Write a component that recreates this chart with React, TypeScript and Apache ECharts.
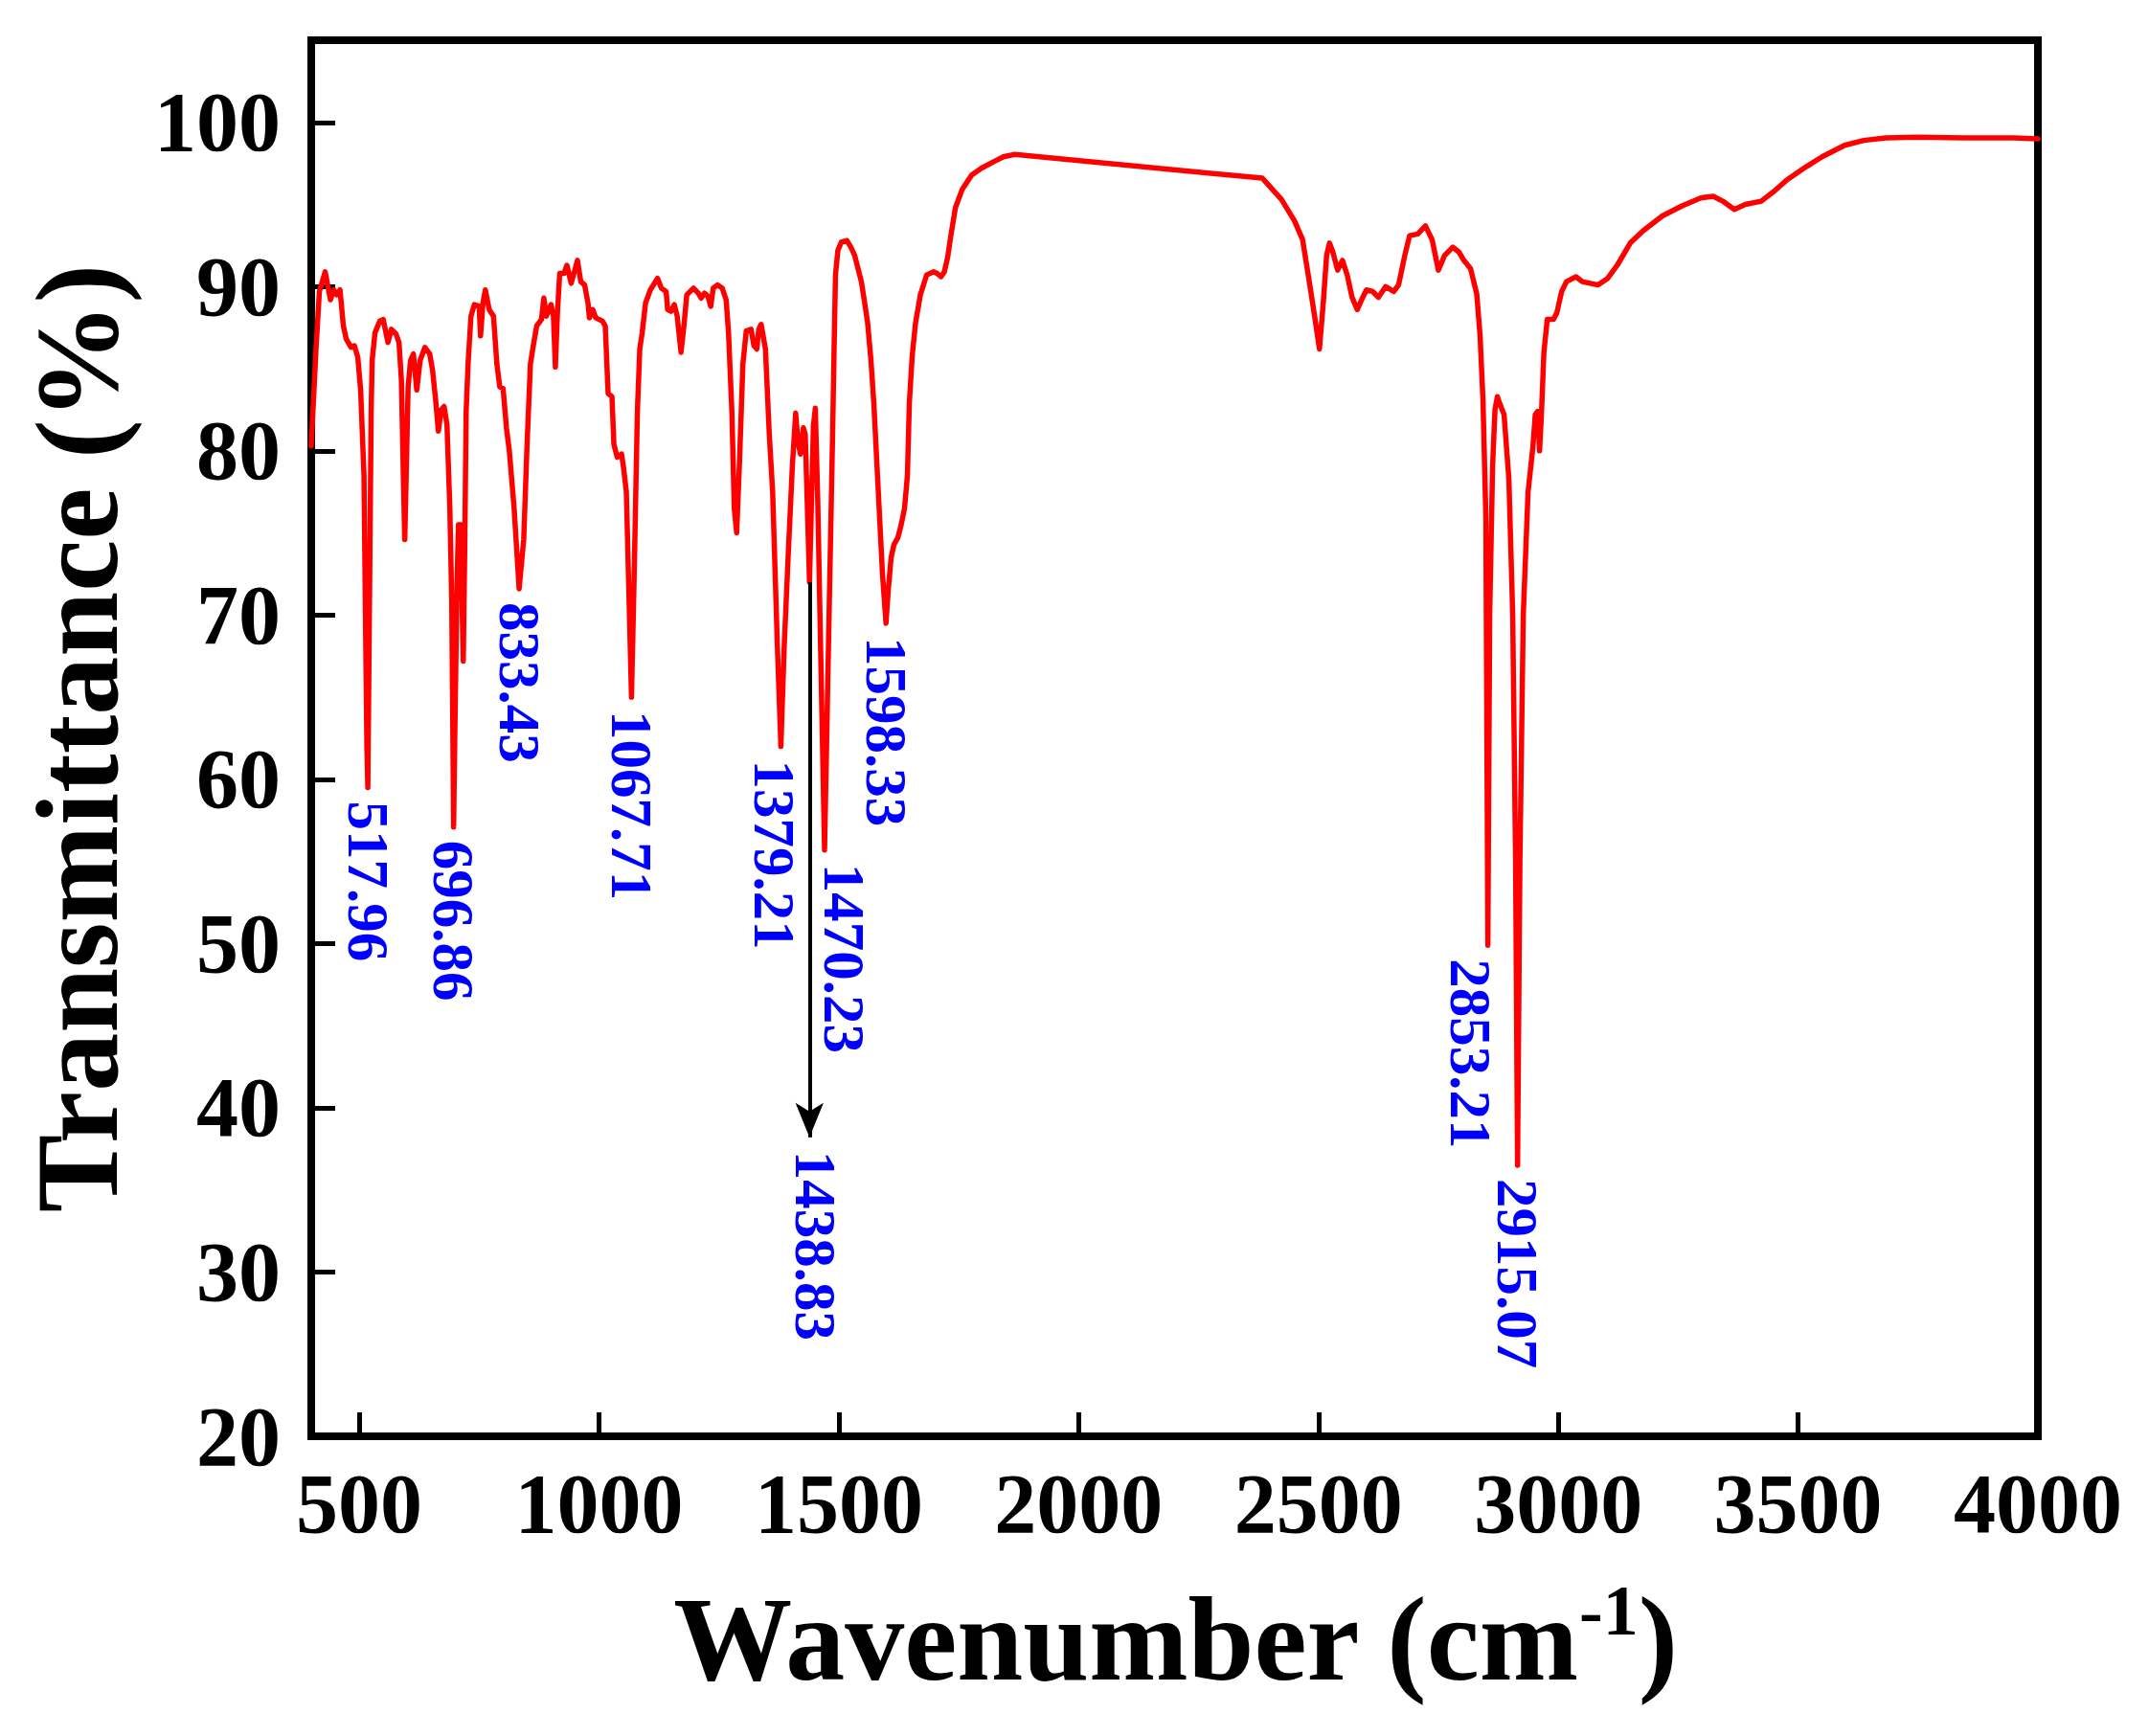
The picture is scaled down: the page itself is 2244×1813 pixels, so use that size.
import React, { useEffect, useRef } from "react";
import * as echarts from "echarts";

type Pt = [number, number];

// FTIR transmittance spectrum, [wavenumber (cm-1), transmittance (%)]
const lowFingerprint: Pt[] = [
  [400, 80.3], [410, 86.2], [417, 89.7], [429, 90.9], [440, 89.2], [447, 89.8], [453, 89.5],
  [460, 89.8], [467, 87.6], [473, 86.8], [483, 86.3], [490, 86.4], [497, 85.7], [503, 83.7],
  [510, 78.5], [513, 70.0], [516, 62.0], [520, 66.0], [523, 76.0], [525, 82.5], [527, 85.5],
  [533, 87.2], [543, 87.9], [550, 88.0], [560, 86.6], [567, 87.4], [577, 87.1], [583, 86.6],
  [588, 84.3], [592, 78.5], [595, 74.6], [598, 78.5], [602, 83.9], [607, 85.5], [613, 85.9],
  [620, 83.7], [627, 85.5], [637, 86.3], [647, 85.9], [653, 84.9], [660, 82.9], [665, 81.2],
  [671, 82.5], [677, 82.7], [683, 81.6], [689, 76.5], [693, 70.7],
];

const highFingerprint: Pt[] = [
  [700, 64.0], [704, 72.0], [707, 75.5], [712, 75.5], [715, 70.0], [717, 67.2], [720, 74.0],
  [723, 82.4], [727, 85.3], [733, 88.2], [740, 88.9], [750, 88.8], [753, 87.0], [758, 89.0],
  [763, 89.8], [771, 88.6], [780, 88.2], [787, 85.3], [793, 83.9], [800, 83.8], [807, 81.4],
  [813, 80.0], [823, 76.5], [843, 74.6], [850, 80.4], [857, 85.3], [863, 86.4], [870, 87.6],
  [880, 88.0], [885, 89.3], [890, 88.2], [900, 88.9], [905, 88.2], [909, 85.1], [913, 88.2],
  [918, 90.8], [927, 90.8], [933, 91.3], [942, 90.2], [955, 91.6], [962, 90.3], [970, 90.1],
  [977, 89.0], [980, 88.1], [987, 88.6], [993, 88.1], [1007, 87.9], [1013, 87.6], [1019, 83.5],
  [1027, 83.3], [1031, 80.4], [1038, 79.6], [1047, 79.8], [1051, 79.0], [1057, 77.5], [1062, 71.7],
  [1073, 72.0], [1080, 82.4], [1085, 86.2], [1090, 87.2], [1097, 89.0], [1107, 89.8], [1122, 90.5],
  [1130, 89.9], [1140, 89.7], [1143, 88.6], [1150, 88.5], [1157, 88.9], [1163, 88.2], [1171, 86.0],
  [1177, 87.6], [1183, 89.5], [1197, 89.9], [1207, 89.6], [1213, 89.3], [1220, 89.6], [1227, 89.4],
  [1233, 88.8], [1238, 89.9], [1247, 90.1], [1257, 89.9], [1265, 89.2], [1270, 87.2], [1277, 82.4],
  [1282, 76.5], [1287, 75.0], [1293, 79.4], [1300, 85.3], [1307, 87.3], [1317, 87.4], [1323, 86.4],
  [1329, 86.2], [1333, 87.4], [1338, 87.7], [1347, 86.2], [1355, 81.0], [1362, 77.5], [1372, 68.0],
];

const doubleBondRegion: Pt[] = [
  [1386, 68.0], [1395, 74.0], [1403, 79.0], [1410, 82.3], [1415, 80.5], [1420, 79.8], [1426, 81.4],
  [1430, 81.0], [1434, 77.0], [1443, 77.0], [1447, 81.5], [1451, 82.6], [1456, 77.0], [1462, 68.0],
  [1477, 66.0], [1483, 75.0], [1487, 81.0], [1490, 86.0], [1493, 90.7], [1498, 92.2], [1505, 92.7],
  [1517, 92.8], [1525, 92.4], [1533, 91.9], [1547, 90.3], [1555, 88.8], [1560, 87.8], [1567, 85.5],
  [1573, 82.9], [1583, 77.1], [1591, 72.5], [1603, 71.5], [1609, 73.5], [1615, 74.3], [1623, 74.7],
  [1630, 75.5], [1637, 76.5], [1643, 78.5], [1647, 82.9], [1653, 85.8], [1660, 87.8], [1670, 89.5],
  [1683, 90.7], [1697, 90.9], [1705, 90.8], [1713, 90.6], [1720, 90.9], [1727, 91.8], [1733, 93.0],
  [1743, 94.8], [1757, 95.9], [1777, 96.8], [1797, 97.2], [1823, 97.6], [1843, 97.9], [1867, 98.05],
];

const baselineRegion: Pt[] = [
  [2383, 96.6], [2397, 96.15], [2423, 95.3], [2450, 94.0], [2467, 92.85], [2483, 89.9], [2493, 88.0],
  [2502, 86.2], [2510, 89.0], [2517, 91.9], [2523, 92.65], [2530, 92.1], [2540, 91.0], [2550, 91.6],
  [2560, 90.7], [2570, 89.35], [2581, 88.6], [2590, 89.2], [2600, 89.8], [2613, 89.7], [2625, 89.35],
  [2640, 90.0], [2657, 89.7], [2667, 90.1], [2680, 91.9], [2690, 93.1], [2707, 93.2], [2723, 93.7],
  [2737, 92.85], [2750, 91.0], [2763, 91.9], [2780, 92.4], [2793, 92.1], [2803, 91.6], [2817, 91.1],
  [2830, 89.55],
];

const chStretchRegion: Pt[] = [
  [2837, 87.0], [2843, 83.1], [2849, 76.0], [2857, 70.0], [2863, 79.0], [2868, 82.5], [2873, 83.3],
  [2879, 82.8], [2887, 82.2], [2897, 78.3], [2905, 70.0], [2911, 55.0], [2920, 55.0], [2927, 70.0],
  [2937, 77.5], [2947, 80.2], [2952, 82.2], [2957, 82.4], [2961, 80.0], [2965, 82.3], [2970, 86.0],
  [2977, 88.0], [2990, 88.0], [2997, 88.4], [3007, 89.7], [3017, 90.3], [3037, 90.6], [3050, 90.3],
  [3083, 90.1], [3103, 90.5], [3123, 91.3], [3150, 92.65], [3177, 93.4], [3217, 94.3], [3257, 94.9],
  [3297, 95.4], [3323, 95.5], [3343, 95.2], [3367, 94.7], [3390, 95.0], [3423, 95.2], [3450, 95.8],
  [3477, 96.5], [3517, 97.3], [3550, 97.9], [3597, 98.6], [3637, 98.9], [3683, 99.05], [3750, 99.1],
  [3850, 99.05], [3950, 99.05], [4000, 99.0],
];

// labelled absorption minima
const peakWavenumbers = [517.96, 696.86, 833.43, 1067.71, 1379.21, 1470.23, 1598.33, 2853.21, 2915.07];
const peakTransmittance = [59.5, 57.1, 71.6, 65.0, 62.0, 55.7, 69.5, 49.9, 36.5];

// shoulder marked with an arrow
const shoulderWavenumber = 1438.83;
const shoulderTransmittance = 72.0;
const shoulderArrowEnd = 38.2;

const xTickValues = [500, 1000, 1500, 2000, 2500, 3000, 3500, 4000];
const yTickValues = [20, 30, 40, 50, 60, 70, 80, 90, 100];

const SERIF = '"Liberation Serif", "Times New Roman", serif';
const LABEL_BLUE = "#0000ff";

// horizontal nudges (px) for labels that sit beside their minimum
const labelNudge: Record<string, number> = { "1379.21": -7, "1470.23": 20, "2853.21": -18 };

export default function App() {
  const ref = useRef<HTMLDivElement>(null);

  useEffect(() => {
    if (!ref.current) return;
    const chart = echarts.init(ref.current, null, { renderer: "svg" });

    const spectrum: Pt[] = [
      ...lowFingerprint,
      ...highFingerprint,
      ...doubleBondRegion,
      ...baselineRegion,
      ...chStretchRegion,
      ...peakWavenumbers.map((w, i) => [w, peakTransmittance[i]] as Pt),
      [shoulderWavenumber, shoulderTransmittance] as Pt,
    ].sort((a, b) => a[0] - b[0]);

    const tickFont = {
      fontFamily: SERIF,
      fontWeight: "bold",
      fontSize: 88,
      color: "#000",
      formatter: (v: number) => String(v),
    };

    chart.setOption({
      animation: false,
      grid: {
        left: 325,
        right: 116,
        top: 42,
        bottom: 313,
        show: true,
        borderColor: "#000",
        borderWidth: 8,
        backgroundColor: "transparent",
      },
      xAxis: {
        type: "value",
        min: 400,
        max: 4000,
        axisLine: { show: false },
        axisTick: {
          show: true,
          inside: true,
          length: 25,
          lineStyle: { color: "#000", width: 5 },
          customValues: xTickValues,
        },
        axisLabel: { ...tickFont, margin: 26, customValues: xTickValues },
        splitLine: { show: false },
      },
      yAxis: {
        type: "value",
        min: 20,
        max: 105,
        axisLine: { show: false },
        axisTick: {
          show: true,
          inside: true,
          length: 25,
          lineStyle: { color: "#000", width: 5 },
          customValues: yTickValues,
        },
        axisLabel: { ...tickFont, margin: 32, customValues: yTickValues },
        splitLine: { show: false },
      },
      series: [
        {
          type: "line",
          data: spectrum,
          showSymbol: false,
          symbol: "none",
          lineStyle: { color: "#ff0000", width: 5.5, join: "round", cap: "round" },
          clip: true,
          markLine: {
            silent: true,
            symbol: ["none", "arrow"],
            symbolSize: [22, 36],
            lineStyle: { color: "#000", width: 4, type: "solid" },
            label: { show: false },
            data: [
              [
                { coord: [shoulderWavenumber, shoulderTransmittance] },
                { coord: [shoulderWavenumber, shoulderArrowEnd] },
              ],
            ],
          },
        },
      ],
    });

    const labelText = (px: number, py: number, text: string) => ({
      type: "text",
      x: px,
      y: py,
      rotation: -Math.PI / 2,
      z: 100,
      style: {
        text,
        fill: LABEL_BLUE,
        font: `bold 61px ${SERIF}`,
        align: "left",
        verticalAlign: "middle",
      },
    });

    const peakLabels = peakWavenumbers.map((w, i) => {
      const [px, py] = chart.convertToPixel({ gridIndex: 0 }, [w, peakTransmittance[i]]) as number[];
      const text = w.toFixed(2);
      return labelText(px + (labelNudge[text] || 0), py + 14, text);
    });

    const [sx, sy] = chart.convertToPixel({ gridIndex: 0 }, [shoulderWavenumber, shoulderArrowEnd]) as number[];
    const shoulderLabel = labelText(sx + 6, sy + 14, shoulderWavenumber.toFixed(2));

    chart.setOption({
      graphic: [
        ...peakLabels,
        shoulderLabel,
        {
          type: "text",
          x: 1227,
          y: 1712,
          style: {
            text: "{b|Wavenumber (cm}{s|-1}{b|)}",
            align: "center",
            verticalAlign: "middle",
            rich: {
              b: { fontFamily: SERIF, fontWeight: "bold", fontSize: 124, fill: "#000", lineHeight: 134 },
              s: { fontFamily: SERIF, fontWeight: "bold", fontSize: 74, fill: "#000", verticalAlign: "top", lineHeight: 134 },
            },
          },
        },
        {
          type: "text",
          x: 80,
          y: 771,
          rotation: Math.PI / 2,
          style: {
            text: "Transmittance (%)",
            fill: "#000",
            font: `bold 122px ${SERIF}`,
            align: "center",
            verticalAlign: "middle",
          },
        },
      ],
    });

    return () => chart.dispose();
  }, []);

  return (
    <div
      ref={ref}
      style={{ position: "fixed", left: 0, top: 0, width: 2244, height: 1813, background: "#fff" }}
    />
  );
}
